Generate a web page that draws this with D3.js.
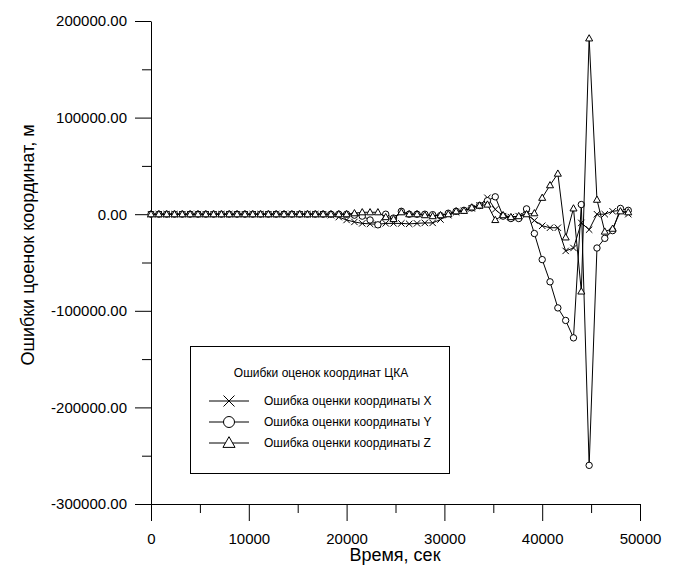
<!DOCTYPE html>
<html>
<head>
<meta charset="utf-8">
<script src="https://cdn.jsdelivr.net/npm/d3@7"></script>
<style>
  body { margin: 0; background: #fff; }
  svg { font-family: "Liberation Sans", Arial, sans-serif; }
  .axis path, .axis line { stroke: #000; }
</style>
</head>
<body>
<svg id="chart" width="676" height="565"></svg>
<script>
// time, sec
var times = [0, 800, 1600, 2400, 3200, 4000, 4800, 5600, 6400, 7200,
  8000, 8800, 9600, 10400, 11200, 12000, 12800, 13600, 14400, 15200,
  16000, 16800, 17600, 18400, 19200, 20000, 20800, 21600, 22400, 23200,
  24000, 24800, 25600, 26400, 27200, 28000, 28800, 29600, 30400, 31200,
  32000, 32800, 33600, 34400, 35200, 36000, 36800, 37600, 38400, 39200,
  40000, 40800, 41600, 42400, 43200, 44000, 44800, 45600, 46400, 47200,
  48000, 48800];

var errX = [0, 0, 0, 0, 0, 0, 0, 0, 0, 0,
  0, 0, 0, 0, 0, 0, 0, 0, 0, 0,
  0, 0, 0, -1000, -3000, -6000, -8000, -9500, -10000, -10500,
  -9500, -9500, -9500, -10000, -9500, -9000, -9000, -5500, -1000, 2000,
  3500, 6000, 9000, 17000, 5000, -2000, -3000, -2000, 0, -6500,
  -12000, -14000, -14000, -38000, -35000, -9000, -16000, 0, 0, 3000,
  4000, 0];

var errY = [0, 0, 0, 0, 0, 0, 0, 0, 0, 0,
  0, 0, 0, 0, 0, 0, 0, 0, 0, 0,
  0, 0, 0, 0, 0, 0, -1000, -2000, -6000, -11000,
  0, -4000, 3000, 0, 0, 0, -500, -1500, 1000, 3000,
  4000, 6500, 9000, 14000, 18000, -2000, -4500, -4500, 5500, -20000,
  -47000, -70000, -97000, -110000, -128000, 10000, -260000, -35000, -25000, -17000,
  6000, 4000];

var errZ = [0, 0, 0, 0, 0, 0, 0, 0, 0, 0,
  0, 0, 0, 0, 0, 0, 0, 0, 0, 0,
  0, 0, 0, 0, 0, 0, 1000, 2000, 2000, 2000,
  -3000, -5000, 2000, 0, 0, -1000, -2000, -1000, 0, 3000,
  3500, 7000, 9000, 10000, -6000, -1000, -3000, -2000, 0, 1000,
  17000, 30000, 42000, -24000, 6000, -80000, 182000, 15000, -18000, -15000,
  3000, 2000];

var seriesNames = ["Ошибка оценки координаты X", "Ошибка оценки координаты Y", "Ошибка оценки координаты Z"];
var seriesSymbols = ["cross", "circle", "triangle"];
var legendTitle = "Ошибки оценок координат ЦКА";
var xTicks = [0, 10000, 20000, 30000, 40000, 50000];
var xMinorTicks = [5000, 15000, 25000, 35000, 45000];
var yTicks = [200000, 100000, 0, -100000, -200000, -300000];
var yMinorTicks = [150000, 50000, -50000, -150000, -250000];

var svg = d3.select('#chart');
var plotLeft = 151, plotRight = 640, plotTop = 21, plotBottom = 504;

var x = d3.scaleLinear().domain([0, 50000]).range([plotLeft, plotRight]);
var y = d3.scaleLinear().domain([-300000, 200000]).range([plotBottom, plotTop]);

// plain hyphen for negatives, like the original
var fmtY = d => (d < 0 ? '-' : '') + Math.abs(d).toFixed(2);

// axes
svg.append('g')
  .attr('class', 'axis')
  .attr('transform', `translate(0, ${plotBottom})`)
  .call(d3.axisBottom(x).tickValues(xTicks).tickSize(17).tickSizeOuter(0).tickPadding(12)
    .tickFormat(d3.format('d')))
  .call(g => g.selectAll('text').attr('font-size', 15).attr('font-family', 'Liberation Sans'));

svg.append('g')
  .attr('class', 'axis')
  .attr('transform', `translate(0, ${plotBottom})`)
  .call(d3.axisBottom(x).tickValues(xMinorTicks).tickSize(9).tickSizeOuter(0).tickFormat(''))
  .call(g => g.select('.domain').remove());

svg.append('g')
  .attr('class', 'axis')
  .attr('transform', `translate(${plotLeft}, 0)`)
  .call(d3.axisLeft(y).tickValues(yTicks).tickSize(16).tickSizeOuter(0).tickPadding(8)
    .tickFormat(fmtY))
  .call(g => g.selectAll('text').attr('font-size', 15).attr('font-family', 'Liberation Sans'));

svg.append('g')
  .attr('class', 'axis')
  .attr('transform', `translate(${plotLeft}, 0)`)
  .call(d3.axisLeft(y).tickValues(yMinorTicks).tickSize(9).tickSizeOuter(0).tickFormat(''))
  .call(g => g.select('.domain').remove());

// axis titles
svg.append('text')
  .attr('x', 395)
  .attr('y', 561)
  .attr('text-anchor', 'middle')
  .attr('font-size', 18)
  .text('Время, сек');

svg.append('text')
  .attr('transform', 'rotate(-90)')
  .attr('x', -245)
  .attr('y', 34)
  .attr('text-anchor', 'middle')
  .attr('font-size', 18)
  .text('Ошибки цоенок координат, м');

// markers
function drawMarker(g, kind, cx, cy, s) {
  if (kind === 'cross') {
    g.append('path')
      .attr('d', `M${cx - s},${cy - s}L${cx + s},${cy + s}M${cx - s},${cy + s}L${cx + s},${cy - s}`)
      .attr('stroke', '#000').attr('stroke-width', 1).attr('fill', 'none');
  } else if (kind === 'circle') {
    g.append('circle')
      .attr('cx', cx).attr('cy', cy).attr('r', s)
      .attr('stroke', '#000').attr('stroke-width', 1).attr('fill', '#fff');
  } else {
    g.append('path')
      .attr('d', `M${cx},${cy - s * 1.15}L${cx + s * 1.1},${cy + s * 0.8}L${cx - s * 1.1},${cy + s * 0.8}Z`)
      .attr('stroke', '#000').attr('stroke-width', 1).attr('fill', '#fff');
  }
}

var allSeries = [errX, errY, errZ];
var line = d3.line().x((d, i) => x(times[i])).y(d => y(d));

allSeries.forEach(function (vals, s) {
  var g = svg.append('g');
  g.append('path')
    .datum(vals)
    .attr('d', line)
    .attr('fill', 'none')
    .attr('stroke', '#000')
    .attr('stroke-width', 1);
  vals.forEach(function (v, i) {
    drawMarker(g, seriesSymbols[s], x(times[i]), y(v), 3.2);
  });
});

// legend
var lg = svg.append('g');
lg.append('rect')
  .attr('x', 190.5).attr('y', 346.5)
  .attr('width', 259).attr('height', 127)
  .attr('fill', '#fff').attr('stroke', '#000').attr('stroke-width', 1);
lg.append('text')
  .attr('x', 321).attr('y', 377)
  .attr('text-anchor', 'middle')
  .attr('font-size', 12)
  .text(legendTitle);
seriesNames.forEach(function (name, s) {
  var ly = 401 + s * 21;
  lg.append('line')
    .attr('x1', 209).attr('x2', 249).attr('y1', ly).attr('y2', ly)
    .attr('stroke', '#000').attr('stroke-width', 1);
  drawMarker(lg, seriesSymbols[s], 229, ly, 5.5);
  lg.append('text')
    .attr('x', 264).attr('y', ly + 4)
    .attr('font-size', 12)
    .text(name);
});
</script>
</body>
</html>
